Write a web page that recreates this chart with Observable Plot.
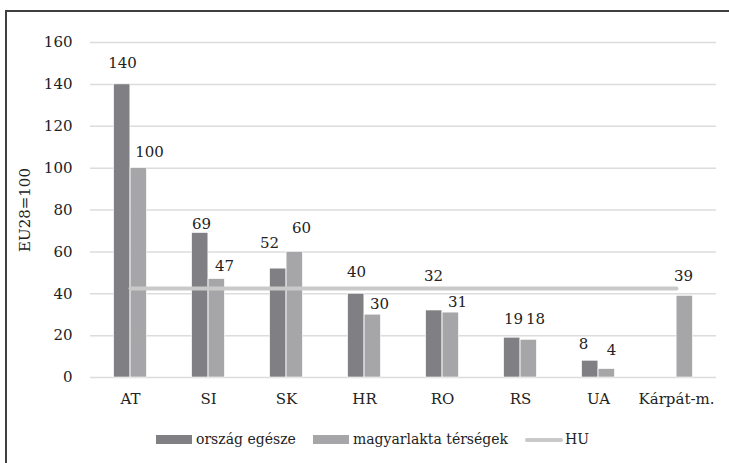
<!DOCTYPE html>
<html>
<head>
<meta charset="utf-8">
<script src="https://cdn.jsdelivr.net/npm/d3@7"></script>
<script src="https://cdn.jsdelivr.net/npm/@observablehq/plot@0.6"></script>
<style>
  html, body { margin: 0; padding: 0; background: #fff; }
  body { width: 729px; height: 463px; position: relative; overflow: hidden; font-family: "DejaVu Serif", "Liberation Serif", "Noto Serif", serif; color: #222; }
  #frame { position: absolute; left: 5px; top: 10px; width: 740px; height: 470px; border-left: 2px solid #404040; border-top: 2px solid #404040; box-sizing: border-box; }
  #chart { position: absolute; left: 8px; top: 13px; }
  #legend { position: absolute; left: 0; top: 428px; width: 729px; height: 22px; font-size: 14px; white-space: nowrap; }
  .sw { position: absolute; top: 7px; height: 9px; }
  .ln { position: absolute; top: 9.5px; height: 4px; border-radius: 2px; }
  .lt { position: absolute; top: 0; line-height: 22px; }
</style>
</head>
<body>
<div id="frame"></div>
<div id="chart"></div>
<div id="legend"></div>
<script>
// ---- data ----
const categories = ["AT", "SI", "SK", "HR", "RO", "RS", "UA", "Kárpát-m."];
const orszagEgesze = [140, 69, 52, 40, 32, 19, 8, null];
const magyarlakta = [100, 47, 60, 30, 31, 18, 4, 39];
const huValue = 42.5;
const yTicks = [0, 20, 40, 60, 80, 100, 120, 140, 160];
const seriesNames = ["ország egésze", "magyarlakta térségek", "HU"];

// ---- styles ----
const FONT = "'DejaVu Serif', 'Liberation Serif', 'Noto Serif', serif";
const FS = 15;
const darkColor = "#808084";
const lightColor = "#a6a6a9";
const huColor = "#c9c9c9";
// label nudges (dx, dy in px) as placed in the original
const darkLabelNudge = [[-8, -21], [-7, -9], [-17, -25], [-8, -22], [-9, -34], [-7, -19], [-15, -17], [0, 0]];
const lightLabelNudge = [[19, -16], [16, -13], [15, -24], [15, -11], [15, -10], [15, -21], [13, -19], [7, -20]];

const darkData = categories.map((c, i) => ({cat: c, v: orszagEgesze[i]})).filter(d => d.v != null);
const lightData = categories.map((c, i) => ({cat: c, v: magyarlakta[i]})).filter(d => d.v != null);
const huData = categories.map(c => ({cat: c, v: huValue}));

const W = 721, H = 400;
const bandW = (W - 82 - 13) / categories.length;
const barW = 16.5;

const labelMarks = [];
categories.forEach((c, i) => {
  if (orszagEgesze[i] != null) {
    labelMarks.push(Plot.text([{cat: c, v: orszagEgesze[i]}], {
      x: "cat", y: "v", text: d => String(d.v),
      dx: darkLabelNudge[i][0], dy: darkLabelNudge[i][1], fill: "#222", fontSize: FS, fontFamily: FONT
    }));
  }
  if (magyarlakta[i] != null) {
    labelMarks.push(Plot.text([{cat: c, v: magyarlakta[i]}], {
      x: "cat", y: "v", text: d => String(d.v),
      dx: lightLabelNudge[i][0], dy: lightLabelNudge[i][1], fill: "#222", fontSize: FS, fontFamily: FONT
    }));
  }
});

const chart = Plot.plot({
  width: W,
  height: H,
  marginLeft: 82,
  marginRight: 13,
  marginTop: 29,
  marginBottom: 36,
  style: {fontFamily: FONT, fontSize: FS + "px", background: "none", color: "#222", overflow: "visible"},
  x: {domain: categories, padding: 0},
  y: {domain: [0, 160]},
  marks: [
    Plot.ruleY(yTicks, {stroke: "#dcdcdc", strokeWidth: 1.5}),
    Plot.barY(darkData, {x: "cat", y: "v", fill: darkColor, insetLeft: bandW / 2 - barW, insetRight: bandW / 2, stroke: "#fff", strokeWidth: 0.6}),
    Plot.barY(lightData, {x: "cat", y: "v", fill: lightColor, insetLeft: bandW / 2, insetRight: bandW / 2 - barW, stroke: "#fff", strokeWidth: 0.6}),
    Plot.lineY(huData, {x: "cat", y: "v", stroke: huColor, strokeWidth: 4, strokeLinecap: "round"}),
    ...labelMarks,
    Plot.axisX({tickSize: 0, tickPadding: 16, label: null, fontSize: FS, fontFamily: FONT, fill: "#222"}),
    Plot.axisY({ticks: yTicks, tickSize: 0, tickPadding: 18, label: null, fontSize: FS, fontFamily: FONT, fill: "#222"}),
    Plot.text(["EU28=100"], {frameAnchor: "left", dx: -65, rotate: -90, textAnchor: "middle", fontSize: FS, fontFamily: FONT, fill: "#222"})
  ]
});
document.getElementById("chart").appendChild(chart);

// ---- legend ----
const legend = document.getElementById("legend");
legend.innerHTML =
  `<span class="sw" style="left:156px;width:36px;background:${darkColor}"></span>` +
  `<span class="lt" style="left:196px">${seriesNames[0]}</span>` +
  `<span class="sw" style="left:313px;width:36px;background:${lightColor}"></span>` +
  `<span class="lt" style="left:353px">${seriesNames[1]}</span>` +
  `<span class="ln" style="left:525px;width:38px;background:${huColor}"></span>` +
  `<span class="lt" style="left:565px">${seriesNames[2]}</span>`;
</script>
</body>
</html>
